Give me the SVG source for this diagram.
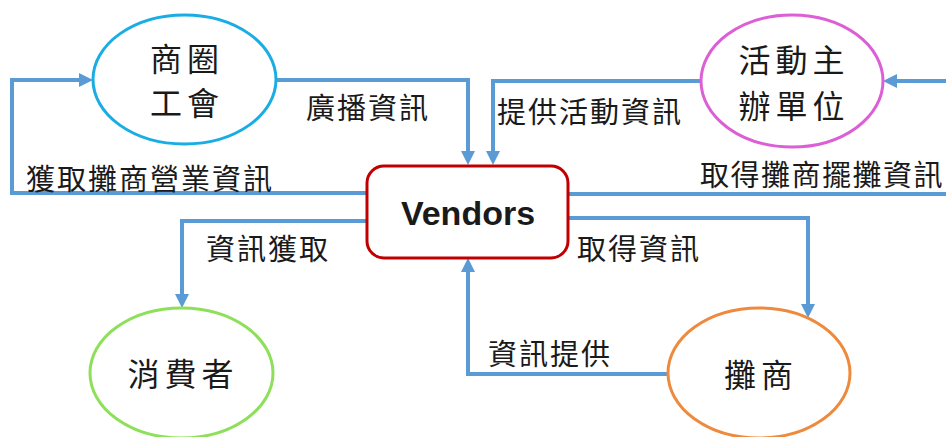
<svg xmlns="http://www.w3.org/2000/svg" width="946" height="437" viewBox="0 0 946 437">
  <style>
    .flow { fill: none; stroke: #5B9BD5; stroke-width: 4; marker-end: url(#arrow); }
    .node { fill: #FFFFFF; stroke-width: 3; }
    .lbl { font-family: "Noto Sans CJK TC", "Noto Sans CJK SC", sans-serif; font-size: 29px; letter-spacing: 2px; fill: #1A1A1A; dominant-baseline: central; }
    .ntxt { font-family: "Noto Sans CJK TC", "Noto Sans CJK SC", sans-serif; font-size: 32px; letter-spacing: 5px; fill: #1A1A1A; text-anchor: middle; dominant-baseline: central; }
    .vtxt { font-family: "Liberation Sans", Arial, sans-serif; font-size: 34px; font-weight: bold; fill: #1A1A1A; text-anchor: middle; }
  </style>
  <defs>
    <marker id="arrow" markerUnits="userSpaceOnUse" markerWidth="16" markerHeight="16" refX="4" refY="7" orient="auto">
      <path d="M0,0 L14,7 L0,14 Z" fill="#5B9BD5"/>
    </marker>
  </defs>
  <rect width="946" height="437" fill="#FFFFFF"/>

  <!-- connectors -->
  <g id="connectors">
    <path class="flow" d="M367,193 H12 V80 H83"/>
    <path class="flow" d="M276,80 H468 V155"/>
    <path class="flow" d="M701,81 H493 V155"/>
    <path class="flow" d="M568,194 H960 V81 H893"/>
    <path class="flow" d="M367,221 H182 V298"/>
    <path class="flow" d="M568,218 H808 V308"/>
    <path class="flow" d="M668,374 H468 V268"/>
  </g>

  <!-- connector labels -->
  <g id="labels">
    <text class="lbl" x="306" y="106">廣播資訊</text>
    <text class="lbl" x="26" y="177">獲取攤商營業資訊</text>
    <text class="lbl" x="497" y="110">提供活動資訊</text>
    <text class="lbl" x="700" y="173" style="letter-spacing:1.5px">取得攤商擺攤資訊</text>
    <text class="lbl" x="206" y="247">資訊獲取</text>
    <text class="lbl" x="577" y="247">取得資訊</text>
    <text class="lbl" x="488" y="352">資訊提供</text>
  </g>

  <g id="union">
    <ellipse class="node" cx="184.5" cy="79.5" rx="91.5" ry="64.5" stroke="#1AADE4"/>
    <text class="ntxt" x="187" y="57">商圈</text>
    <text class="ntxt" x="187" y="101">工會</text>
  </g>

  <g id="organizer">
    <ellipse class="node" cx="792" cy="81" rx="91" ry="66" stroke="#DC5FD6"/>
    <text class="ntxt" x="794" y="58">活動主</text>
    <text class="ntxt" x="794" y="104">辦單位</text>
  </g>

  <g id="vendors">
    <rect class="node" x="367" y="166" width="201" height="92" rx="17" ry="17" stroke="#C00000"/>
    <text class="vtxt" x="468" y="225">Vendors</text>
  </g>

  <g id="consumer">
    <ellipse class="node" cx="181.5" cy="373" rx="91.5" ry="65" stroke="#8EE05A"/>
    <text class="ntxt" x="183" y="372">消費者</text>
  </g>

  <g id="stall">
    <ellipse class="node" cx="759" cy="373" rx="91" ry="65" stroke="#EE8A3E"/>
    <text class="ntxt" x="761" y="373">攤商</text>
  </g>
</svg>
